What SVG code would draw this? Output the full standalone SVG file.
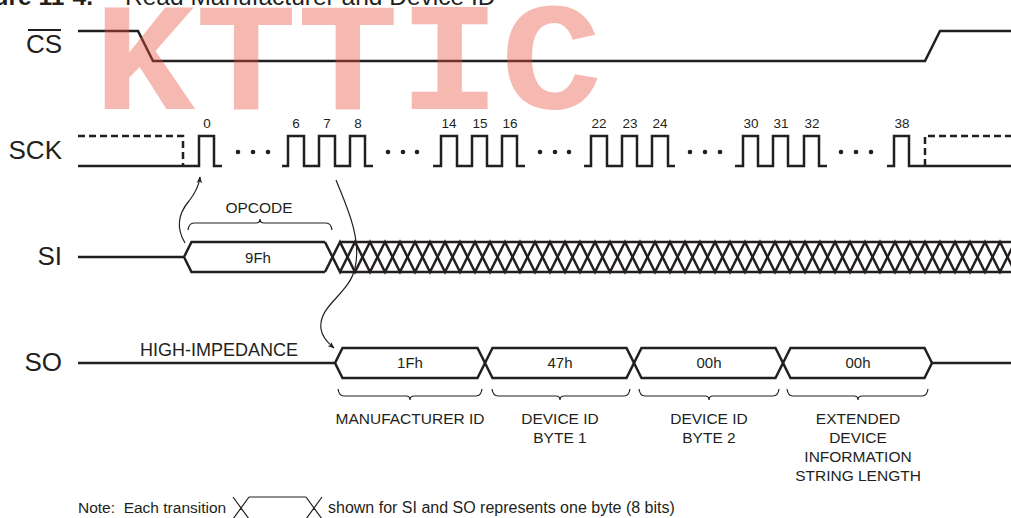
<svg xmlns="http://www.w3.org/2000/svg" width="1011" height="518" viewBox="0 0 1011 518">
<style>
text{font-family:"Liberation Sans",Arial,sans-serif;fill:#231F20}
.sig{fill:none;stroke:#231F20;stroke-width:2.5;stroke-linejoin:miter}
.dash{fill:none;stroke:#231F20;stroke-width:2.5;stroke-dasharray:7 4}
.thin{fill:none;stroke:#231F20;stroke-width:1.2}
.lbl{font-size:26px;text-anchor:end}
.num{font-size:13.5px;text-anchor:middle}
.box{font-size:15px;text-anchor:middle}
.cap{font-size:15.5px;text-anchor:middle}
.dot{fill:#231F20}
.wm{font-family:"Liberation Mono","Courier New",monospace;font-weight:bold;font-size:163px;fill:#E8503F;fill-opacity:0.4}
</style>
<defs>
<marker id="ah" viewBox="0 0 10 10" refX="9" refY="5" markerWidth="7" markerHeight="7" orient="auto" markerUnits="userSpaceOnUse">
<path d="M0,1 L10,5 L0,9 L3,5 Z" fill="#231F20"/>
</marker>
</defs>

<g id="title">
<text x="93" y="5" font-size="24.5" font-weight="bold" text-anchor="end">Figure 11-4.</text>
<text x="125" y="5" font-size="24.5">Read Manufacturer and Device ID</text>
</g>

<g id="cs">
<text class="lbl" x="62" y="53">CS</text>
<line x1="28" y1="30" x2="61" y2="30" stroke="#231F20" stroke-width="1.8"/>
<path class="sig" d="M78,31 H138 L153,61 H925 L940,31 H1011"/>
</g>

<g id="sck">
<text class="lbl" x="62" y="159">SCK</text>
<path class="dash" d="M78,136 H183 V166"/>
<path class="dash" d="M925,166 V136 H1011"/>
<path class="sig" d="M78,166 H199 V136 H214 V166 H222"/>
<path class="sig" d="M282,166 H288 V136 H304 V166 H319 V136 H335 V166 H350 V136 H365 V166 H373"/>
<path class="sig" d="M433,166 H441 V136 H457 V166 H472 V136 H487 V166 H502 V136 H517 V166 H525"/>
<path class="sig" d="M584,166 H591 V136 H607 V166 H622 V136 H637 V166 H652 V136 H668 V166 H675"/>
<path class="sig" d="M735,166 H743 V136 H758 V166 H773 V136 H788 V166 H804 V136 H819 V166 H827"/>
<path class="sig" d="M887,166 H894 V136 H909 V166 H1011"/>
<g class="dot">
<circle cx="238" cy="152" r="2.3"/><circle cx="253" cy="152" r="2.3"/><circle cx="268" cy="152" r="2.3"/>
<circle cx="388" cy="152" r="2.3"/><circle cx="403" cy="152" r="2.3"/><circle cx="417" cy="152" r="2.3"/>
<circle cx="540" cy="152" r="2.3"/><circle cx="555" cy="152" r="2.3"/><circle cx="569" cy="152" r="2.3"/>
<circle cx="690" cy="152" r="2.3"/><circle cx="705" cy="152" r="2.3"/><circle cx="720" cy="152" r="2.3"/>
<circle cx="841" cy="152" r="2.3"/><circle cx="856" cy="152" r="2.3"/><circle cx="871" cy="152" r="2.3"/>
</g>
<text class="num" x="207" y="128">0</text>
<text class="num" x="296" y="128">6</text>
<text class="num" x="327" y="128">7</text>
<text class="num" x="358" y="128">8</text>
<text class="num" x="449" y="128">14</text>
<text class="num" x="480" y="128">15</text>
<text class="num" x="510" y="128">16</text>
<text class="num" x="599" y="128">22</text>
<text class="num" x="630" y="128">23</text>
<text class="num" x="660" y="128">24</text>
<text class="num" x="751" y="128">30</text>
<text class="num" x="781" y="128">31</text>
<text class="num" x="812" y="128">32</text>
<text class="num" x="902" y="128">38</text>
</g>

<g id="si">
<text class="lbl" x="62" y="265">SI</text>
<path class="sig" d="M78,257 H184 L191.5,242 H325 M184,257 L191.5,272 H325"/>
<path class="sig" d="M340,242 H1011 M340,272 H1011"/>
<path class="sig" d="M325,242 l15,30 15,-30 15,30 15,-30 15,30 15,-30 15,30 15,-30 15,30 15,-30 15,30 15,-30 15,30 15,-30 15,30 15,-30 15,30 15,-30 15,30 15,-30 15,30 15,-30 15,30 15,-30 15,30 15,-30 15,30 15,-30 15,30 15,-30 15,30 15,-30 15,30 15,-30 15,30 15,-30 15,30 15,-30 15,30 15,-30 15,30 15,-30 15,30 15,-30 15,30 15,-30"/>
<path class="sig" d="M325,272 l15,-30 15,30 15,-30 15,30 15,-30 15,30 15,-30 15,30 15,-30 15,30 15,-30 15,30 15,-30 15,30 15,-30 15,30 15,-30 15,30 15,-30 15,30 15,-30 15,30 15,-30 15,30 15,-30 15,30 15,-30 15,30 15,-30 15,30 15,-30 15,30 15,-30 15,30 15,-30 15,30 15,-30 15,30 15,-30 15,30 15,-30 15,30 15,-30 15,30 15,-30 15,30"/>
<text class="box" x="258" y="263">9Fh</text>
<path class="thin" d="M188,230 Q189,223 194,223 H256 Q260,223 260,219 Q260,223 264,223 H326 Q331,223 332,230"/>
<text class="cap" x="259" y="213">OPCODE</text>
</g>

<g id="so">
<text class="lbl" x="62" y="371">SO</text>
<text x="219" y="356" font-size="18" text-anchor="middle">HIGH-IMPEDANCE</text>
<path class="sig" d="M78,363 H335 L342.5,348 H477.5 L492.5,378 H626.5 L641.5,348 H775.5 L790.5,378 H924.5 L932,363 H1011"/>
<path class="sig" d="M335,363 L342.5,378 H477.5 L492.5,348 H626.5 L641.5,378 H775.5 L790.5,348 H924.5 L932,363"/>
<text class="box" x="410" y="368">1Fh</text>
<text class="box" x="560" y="368">47h</text>
<text class="box" x="709" y="368">00h</text>
<text class="box" x="858" y="368">00h</text>
<path class="thin" d="M338,389 Q339,396 344,396 H406 Q410,396 410,400 Q410,396 414,396 H476 Q481,396 482,389"/>
<path class="thin" d="M492,389 Q493,396 498,396 H556 Q560,396 560,400 Q560,396 564,396 H624 Q629,396 630,389"/>
<path class="thin" d="M639,389 Q640,396 645,396 H705 Q709,396 709,400 Q709,396 713,396 H773 Q778,396 779,389"/>
<path class="thin" d="M787,389 Q788,396 793,396 H854 Q858,396 858,400 Q858,396 862,396 H922 Q927,396 928,389"/>
<text class="cap" x="410" y="424">MANUFACTURER ID</text>
<text class="cap" x="560" y="424">DEVICE ID</text>
<text class="cap" x="560" y="443">BYTE 1</text>
<text class="cap" x="709" y="424">DEVICE ID</text>
<text class="cap" x="709" y="443">BYTE 2</text>
<text class="cap" x="858" y="424">EXTENDED</text>
<text class="cap" x="858" y="443">DEVICE</text>
<text class="cap" x="858" y="462">INFORMATION</text>
<text class="cap" x="858" y="481">STRING LENGTH</text>
</g>

<g id="connectors">
<path class="thin" marker-end="url(#ah)" d="M185,243 C176,228 178,214 189,201 C196,192 199,186 200,177"/>
<path class="thin" marker-end="url(#ah)" d="M336,180 C346,205 362,238 355,268 C349,295 318,305 321,329 C322,337 328,343 334,348"/>
</g>

<g id="note">
<text x="78" y="513" font-size="15.5" xml:space="preserve">Note:  Each transition</text>
<path class="thin" stroke-width="1.6" d="M233,497 L249,519 M233,519 L249,497 M249,497 H306 M306,497 L322,519 M306,519 L322,497"/>
<text x="328" y="513" font-size="16">shown for SI and SO represents one byte (8 bits)</text>
</g>

<g id="watermark" transform="translate(0,109) scale(1.04,0.95) translate(0,-109)">
<text class="wm" x="90" y="109">KTTIC</text>
</g>
</svg>
